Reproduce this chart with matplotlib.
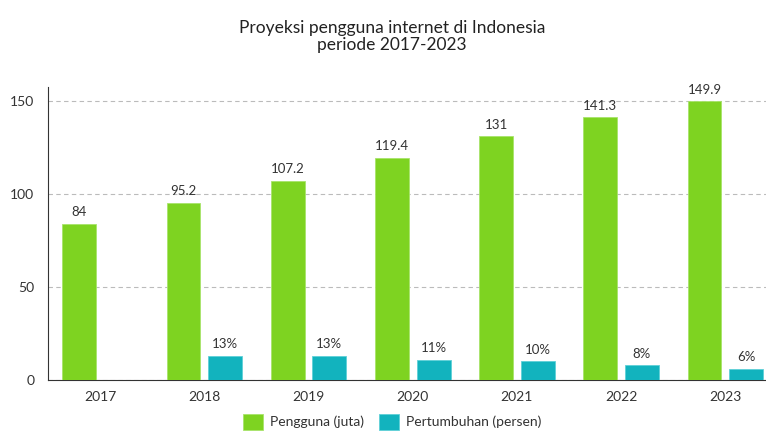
import numpy as np
import matplotlib
matplotlib.use('Agg')
import matplotlib.pyplot as plt

plt.rcParams['font.family'] = ['Lato', 'DejaVu Sans']

# Data
tahun = ['2017', '2018', '2019', '2020', '2021', '2022', '2023']
pengguna = [84, 95.2, 107.2, 119.4, 131, 141.3, 149.9]
pertumbuhan = [np.nan, 13, 13, 11, 10, 8, 6]

hijau = '#7ED321'
toska = '#12B3BE'
teks = '#333333'

fig = plt.figure(figsize=(7.66, 4.34), dpi=100)
ax = fig.add_axes([0.0627, 0.1244, 0.9373, 0.6751])

x = np.arange(len(tahun))
w = 0.325
off = 0.2

b1 = ax.bar(x - off, pengguna, width=w, color=hijau, edgecolor='#A8E46A',
            linewidth=0.6, label='Pengguna (juta)', zorder=3)
b2 = ax.bar(x + off, pertumbuhan, width=w, color=toska, edgecolor='#5FD0D8',
            linewidth=0.6, label='Pertumbuhan (persen)', zorder=3)

for xi, v in zip(x, pengguna):
    ax.text(xi - off, v + 3, f'{v:g}', ha='center', va='bottom',
            fontsize=9.5, color=teks, zorder=4)
for xi, v in zip(x, pertumbuhan):
    if np.isnan(v):
        continue
    ax.text(xi + off, v + 3, f'{v:g}%', ha='center', va='bottom',
            fontsize=9.5, color=teks, zorder=4)

ax.set_xlim(-0.5, 6.39)
ax.set_ylim(0, 157.5)
ax.set_xticks(x)
ax.set_xticklabels(tahun)
ax.set_yticks([0, 50, 100, 150])
ax.tick_params(length=0, labelsize=10, colors=teks, pad=8)
ax.tick_params(axis='y', pad=10)

ax.yaxis.grid(True, linestyle=(0, (4, 3)), color='#BBBBBB', linewidth=0.8, zorder=0)
for s in ['top', 'right']:
    ax.spines[s].set_visible(False)
ax.spines['left'].set_color('#333333')
ax.spines['bottom'].set_color('#333333')

fig.text(0.512, 0.955, 'Proyeksi pengguna internet di Indonesia\nperiode 2017-2023',
         ha='center', va='top', fontsize=12.5, color='#222222', linespacing=1.15)

fig.legend(handles=[b1, b2], loc='center', bbox_to_anchor=(0.512, 0.028),
           ncol=2, frameon=False, fontsize=10, handlelength=1.4, handleheight=1.4,
           columnspacing=1.1, handletextpad=0.5, labelcolor=teks,
           borderaxespad=0, borderpad=0)

fig.savefig('out.png', dpi=100)
